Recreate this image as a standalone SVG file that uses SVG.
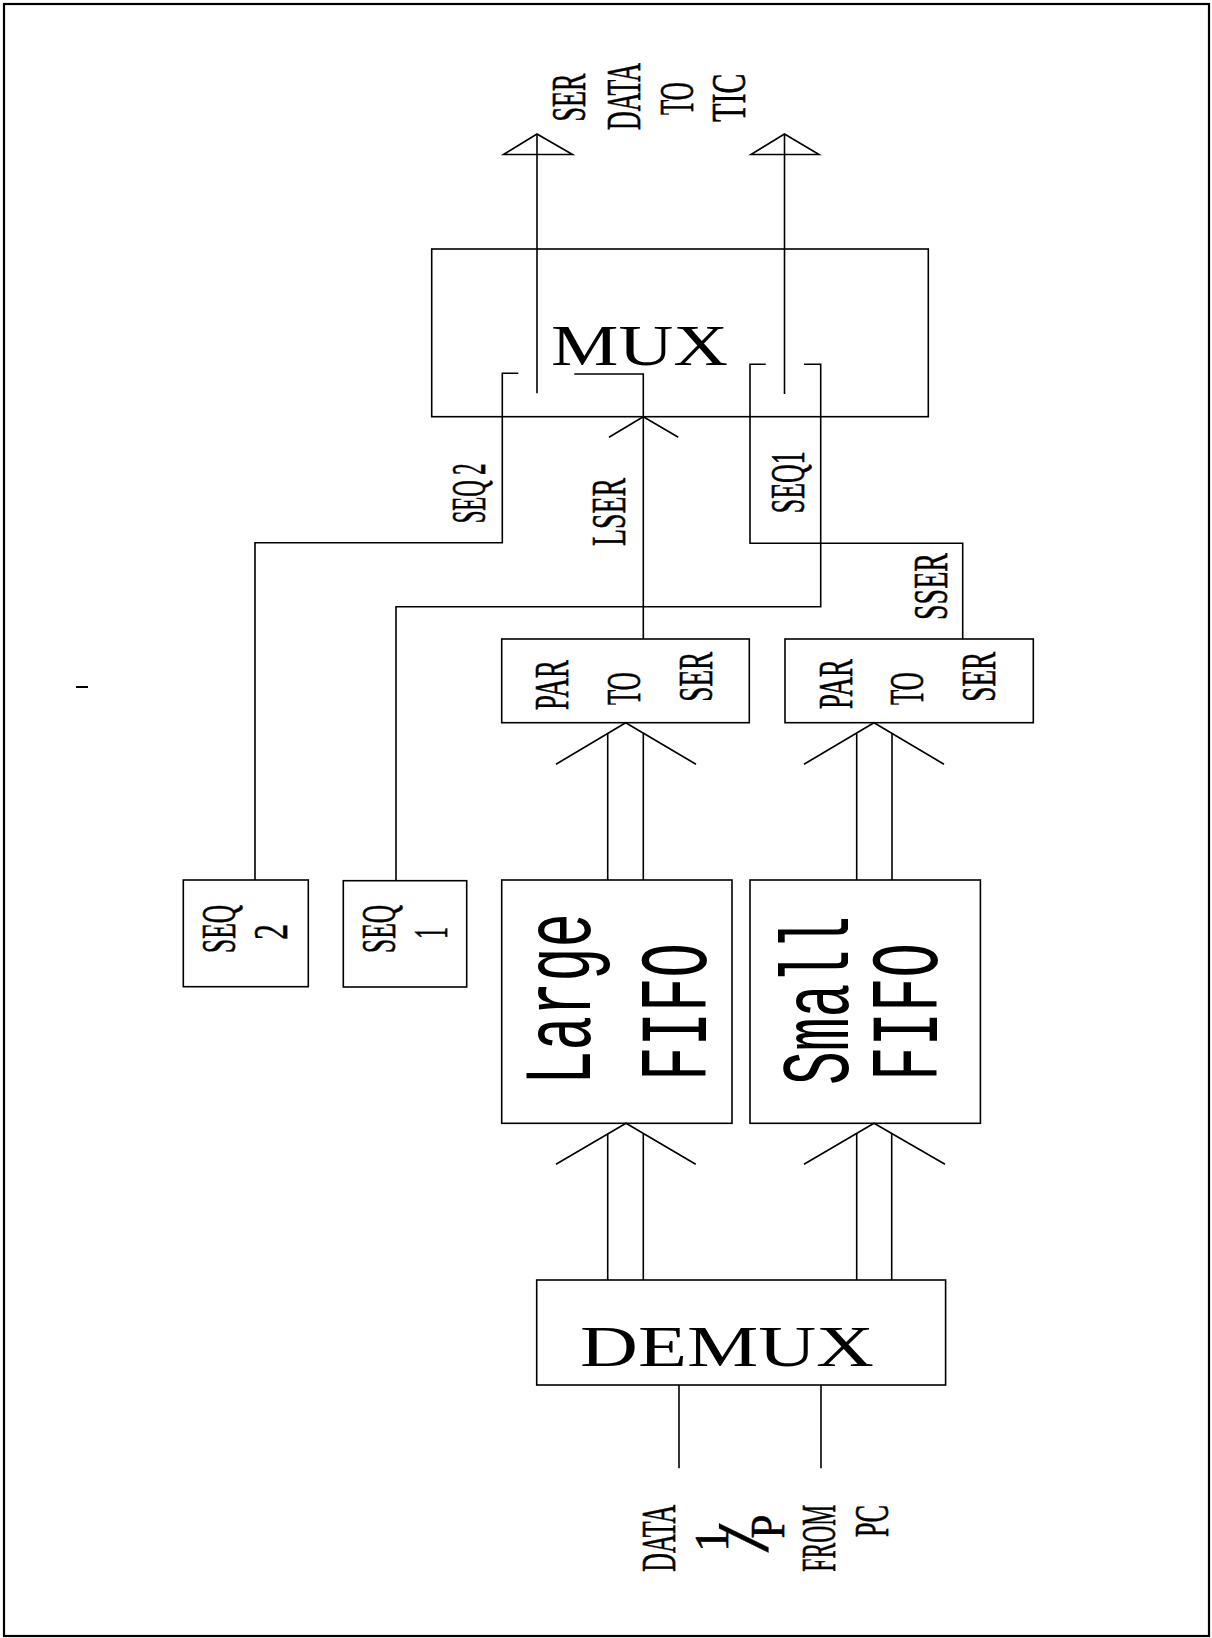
<svg xmlns="http://www.w3.org/2000/svg" width="1212" height="1638" viewBox="0 0 1212 1638">
<defs>
<style>
.box{fill:#fff;stroke:#000;stroke-width:1.6}
.ln{fill:none;stroke:#000;stroke-width:1.6;stroke-linejoin:miter}
.lbl{font-family:"Liberation Serif","Times New Roman",serif;font-size:48px;fill:#000;stroke:#000;stroke-width:0.6}
.big{font-family:"Liberation Serif","Times New Roman",serif;font-size:58px;fill:#000}
.fifo{font-family:"Liberation Mono","Courier New",monospace;font-size:96px;fill:#000}
</style>
</defs>
<rect x="0" y="0" width="1212" height="1638" fill="#fff"/>
<rect x="4" y="4" width="1205" height="1632" fill="none" stroke="#000" stroke-width="2.2"/>
<line x1="76" y1="687" x2="88" y2="687" stroke="#000" stroke-width="2"/>

<g id="mux">
<rect class="box" x="431.7" y="249" width="496.6" height="167.7"/>
<text class="big" x="551" y="364.5" textLength="177" lengthAdjust="spacingAndGlyphs">MUX</text>
</g>
<g id="seq2">
<rect class="box" x="183.3" y="880" width="125" height="106.7"/>
<text class="lbl" transform="translate(235,953) rotate(-90)" textLength="48" lengthAdjust="spacingAndGlyphs">SEQ</text>
<text class="lbl" transform="translate(286.7,940) rotate(-90)" textLength="16" lengthAdjust="spacingAndGlyphs">2</text>
</g>
<g id="seq1">
<rect class="box" x="343.3" y="880.7" width="123.4" height="106.3"/>
<text class="lbl" transform="translate(395,953) rotate(-90)" textLength="48" lengthAdjust="spacingAndGlyphs">SEQ</text>
<text class="lbl" transform="translate(447,939) rotate(-90)" textLength="12" lengthAdjust="spacingAndGlyphs">1</text>
</g>
<g id="large-par-to-ser">
<rect class="box" x="501.7" y="639" width="247.6" height="83.7"/>
<text class="lbl" transform="translate(568.3,710) rotate(-90)" textLength="50" lengthAdjust="spacingAndGlyphs">PAR</text>
<text class="lbl" transform="translate(640,705) rotate(-90)" textLength="33" lengthAdjust="spacingAndGlyphs">TO</text>
<text class="lbl" transform="translate(711.7,701.7) rotate(-90)" textLength="50" lengthAdjust="spacingAndGlyphs">SER</text>
</g>
<g id="small-par-to-ser">
<rect class="box" x="785" y="639" width="248.3" height="83.7"/>
<text class="lbl" transform="translate(851.6,709) rotate(-90)" textLength="50" lengthAdjust="spacingAndGlyphs">PAR</text>
<text class="lbl" transform="translate(923.3,705) rotate(-90)" textLength="33" lengthAdjust="spacingAndGlyphs">TO</text>
<text class="lbl" transform="translate(995,701.7) rotate(-90)" textLength="50" lengthAdjust="spacingAndGlyphs">SER</text>
</g>
<g id="large-fifo">
<rect class="box" x="501.7" y="880" width="230.3" height="243.3"/>
<text class="fifo" transform="translate(590.4,1085) rotate(-90)" textLength="172" lengthAdjust="spacingAndGlyphs">Large</text>
<text class="fifo" transform="translate(706,1081) rotate(-90)" textLength="138" lengthAdjust="spacingAndGlyphs">FIFO</text>
</g>
<g id="small-fifo">
<rect class="box" x="750" y="880" width="230.4" height="243.3"/>
<text class="fifo" transform="translate(847.5,1085) rotate(-90)" textLength="169" lengthAdjust="spacingAndGlyphs">Small</text>
<text class="fifo" transform="translate(936.8,1081) rotate(-90)" textLength="138" lengthAdjust="spacingAndGlyphs">FIFO</text>
</g>
<g id="demux">
<rect class="box" x="536.7" y="1280" width="408.9" height="105"/>
<text class="big" x="580" y="1365.7" textLength="294" lengthAdjust="spacingAndGlyphs">DEMUX</text>
</g>

<g id="connectors">
<line class="ln" x1="537" y1="393.3" x2="537" y2="134"/>
<polygon class="ln" points="537,134 503.5,154.5 572.5,154.5"/>
<line class="ln" x1="784.5" y1="394" x2="784.5" y2="134"/>
<polygon class="ln" points="784.5,134 751,154.5 819,154.5"/>
<polyline class="ln" points="255,880 255,542.7 502.3,542.7 502.3,373.3 518.3,373.3"/>
<polyline class="ln" points="643.3,639 643.3,374 574.3,374"/>
<polyline class="ln" points="609,437.3 643.3,416.7 678.3,437.3"/>
<polyline class="ln" points="396,880.7 396,606.7 820.7,606.7 820.7,364.3 804,364.3"/>
<polyline class="ln" points="962.7,639 962.7,543.3 750,543.3 750,364.3 765.7,364.3"/>
<line class="ln" x1="607.7" y1="880" x2="607.7" y2="733.4"/>
<line class="ln" x1="643.3" y1="880" x2="643.3" y2="733.1"/>
<polyline class="ln" points="556,764.3 625.7,722.7 696,764.3"/>
<line class="ln" x1="856.7" y1="880" x2="856.7" y2="733.3"/>
<line class="ln" x1="892" y1="880" x2="892" y2="733.3"/>
<polyline class="ln" points="804,764.3 874,722.7 944,764.3"/>
<line class="ln" x1="607.7" y1="1280" x2="607.7" y2="1134"/>
<line class="ln" x1="643.3" y1="1280" x2="643.3" y2="1133.5"/>
<polyline class="ln" points="556,1164.3 626,1123.3 695.7,1164.3"/>
<line class="ln" x1="856.7" y1="1280" x2="856.7" y2="1133.8"/>
<line class="ln" x1="891.7" y1="1280" x2="891.7" y2="1133.5"/>
<polyline class="ln" points="804,1164.3 874,1123.3 945,1164.3"/>
<line class="ln" x1="679" y1="1385" x2="679" y2="1468.3"/>
<line class="ln" x1="821" y1="1385" x2="821" y2="1468.3"/>
</g>

<g id="labels">
<text class="lbl" transform="translate(585,121.5) rotate(-90)" textLength="48" lengthAdjust="spacingAndGlyphs">SER</text>
<text class="lbl" transform="translate(640,130) rotate(-90)" textLength="67" lengthAdjust="spacingAndGlyphs">DATA</text>
<text class="lbl" transform="translate(693.3,115) rotate(-90)" textLength="33" lengthAdjust="spacingAndGlyphs">TO</text>
<text class="lbl" transform="translate(745,121.7) rotate(-90)" textLength="48" lengthAdjust="spacingAndGlyphs">TIC</text>
<text class="lbl" transform="translate(485,523.3) rotate(-90)" textLength="60" lengthAdjust="spacingAndGlyphs">SEQ 2</text>
<text class="lbl" transform="translate(625,546) rotate(-90)" textLength="68" lengthAdjust="spacingAndGlyphs">LSER</text>
<text class="lbl" transform="translate(804,513.3) rotate(-90)" textLength="62" lengthAdjust="spacingAndGlyphs">SEQ1</text>
<text class="lbl" transform="translate(946.7,620) rotate(-90)" textLength="67" lengthAdjust="spacingAndGlyphs">SSER</text>
<text class="lbl" transform="translate(675,1571.7) rotate(-90)" textLength="67" lengthAdjust="spacingAndGlyphs">DATA</text>
<text class="lbl" transform="translate(728,1540) rotate(-90)" text-anchor="middle">1</text>
<text class="lbl" transform="translate(768,1538) rotate(-90) scale(1.4,1)" text-anchor="middle" style="font-size:75px;stroke-width:0.2">/</text>
<text class="lbl" transform="translate(784,1538.5) rotate(-90)" textLength="24" lengthAdjust="spacingAndGlyphs">P</text>
<text class="lbl" transform="translate(835,1571.7) rotate(-90)" textLength="67" lengthAdjust="spacingAndGlyphs">FROM</text>
<text class="lbl" transform="translate(888,1537) rotate(-90)" textLength="32" lengthAdjust="spacingAndGlyphs">PC</text>
</g>
</svg>
